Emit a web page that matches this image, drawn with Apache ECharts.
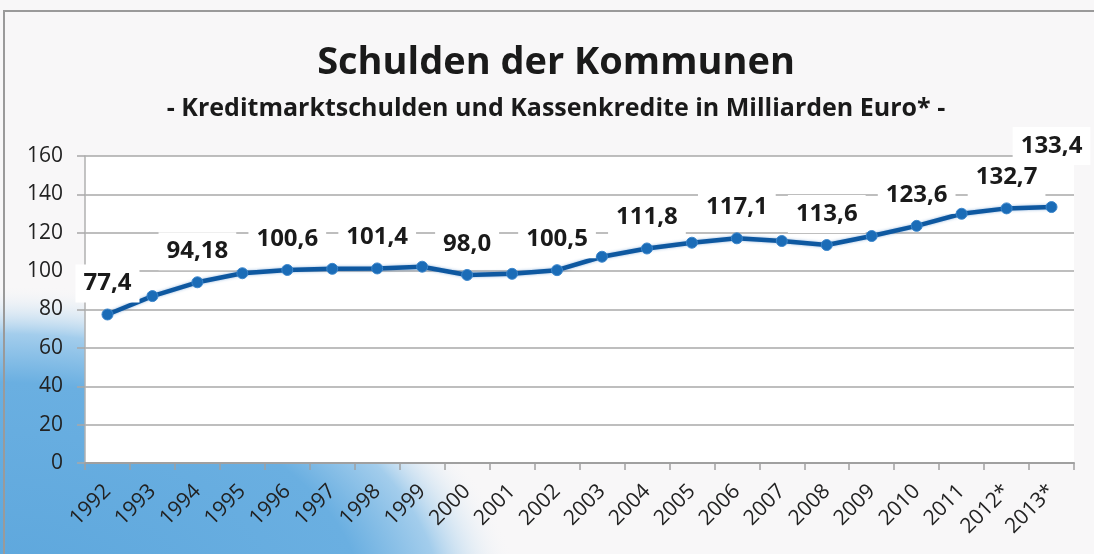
<!DOCTYPE html>
<html>
<head>
<meta charset="utf-8">
<script src="https://cdn.jsdelivr.net/npm/echarts@6/dist/echarts.min.js"></script>
<style>
html,body{margin:0;padding:0;background:#f8f7f8;}
#chart{width:1094px;height:554px;}
</style>
</head>
<body>
<div id="chart"></div>
<script>
const titleText = 'Schulden der Kommunen';
const subtitleText = '- Kreditmarktschulden und Kassenkredite in Milliarden Euro* -';
const categories = ['1992','1993','1994','1995','1996','1997','1998','1999','2000','2001','2002','2003','2004','2005','2006','2007','2008','2009','2010','2011','2012*','2013*'];
const values = [77.4, 87.0, 94.18, 98.9, 100.6, 101.2, 101.4, 102.3, 98.0, 98.6, 100.5, 107.5, 111.8, 114.8, 117.1, 115.7, 113.6, 118.3, 123.6, 129.9, 132.7, 133.4];
const labelTexts = ['77,4','','94,18','','100,6','','101,4','','98,0','','100,5','','111,8','','117,1','','113,6','','123,6','','132,7','133,4'];
const yMin = 0, yMax = 160, yInterval = 20;

const chart = echarts.init(document.getElementById('chart'));
const FONT = 'Open Sans';

const seriesData = values.map((v, i) => ({
  value: v,
  label: {
    show: !!labelTexts[i],
    formatter: labelTexts[i] || '',
    distance: i === values.length - 1 ? 36 : 6
  }
}));

chart.setOption({
  backgroundColor: '#f8f7f8',
  animation: false,
  graphic: [
    {
      type: 'circle', z: -10, silent: true,
      x: 0, y: 610, scaleX: 1.6, scaleY: 1,
      shape: {cx: 0, cy: 0, r: 325},
      style: {
        fill: {
          type: 'radial', x: 0.5, y: 0.5, r: 0.5,
          colorStops: [
            {offset: 0, color: '#5ca6dc'},
            {offset: 0.7, color: '#6aafe1'},
            {offset: 0.85, color: '#a3cdec'},
            {offset: 1, color: 'rgba(248,247,248,0)'}
          ]
        }
      }
    },
    {
      type: 'rect', z: -9, silent: true,
      shape: {x: 4, y: 11, width: 1200, height: 1000},
      style: {fill: 'none', stroke: '#9a9a9a', lineWidth: 2}
    },
    {
      type: 'text', z: 10, silent: true,
      style: {
        text: titleText, x: 556, y: 63, textAlign: 'center', textVerticalAlign: 'middle',
        font: 'bold 38px "Open Sans"', fill: '#1a1a1a'
      }
    },
    {
      type: 'text', z: 10, silent: true,
      style: {
        text: subtitleText, x: 556, y: 109, textAlign: 'center', textVerticalAlign: 'middle',
        font: 'bold 25px "Open Sans"', fill: '#1a1a1a'
      }
    }
  ],
  grid: {
    left: 85, right: 20, top: 156, bottom: 91,
    show: true, backgroundColor: '#ffffff', borderWidth: 0
  },
  xAxis: {
    type: 'category',
    data: categories,
    boundaryGap: true,
    axisLine: {lineStyle: {color: '#a0a0a0', width: 2}},
    axisTick: {show: true, length: 7, lineStyle: {color: '#a0a0a0', width: 1.5}},
    axisLabel: {
      interval: 0, rotate: 45, margin: 25,
      fontFamily: FONT, fontSize: 21, color: '#222'
    }
  },
  yAxis: {
    type: 'value',
    min: yMin, max: yMax, interval: yInterval,
    axisLine: {show: true, lineStyle: {color: '#b0b0b0', width: 1.5}},
    axisTick: {show: true, length: 8, lineStyle: {color: '#a8a8a8', width: 1.5}},
    splitLine: {lineStyle: {color: '#a8a8a8', width: 1.5}},
    axisLabel: {margin: 22, fontFamily: FONT, fontSize: 21, color: '#222'}
  },
  series: [{
    type: 'line',
    data: seriesData,
    symbol: 'circle',
    symbolSize: 11,
    lineStyle: {color: '#0e58a0', width: 4.5, shadowBlur: 3, shadowColor: 'rgba(40,110,190,0.5)'},
    itemStyle: {color: '#1b6cb7', borderColor: '#3b86cc', borderWidth: 1},
    label: {
      position: 'top',
      fontFamily: FONT, fontWeight: 'bold', fontSize: 24, color: '#1a1a1a',
      backgroundColor: '#ffffff', padding: [7, 8]
    },
    z: 5
  }]
});
</script>
</body>
</html>
